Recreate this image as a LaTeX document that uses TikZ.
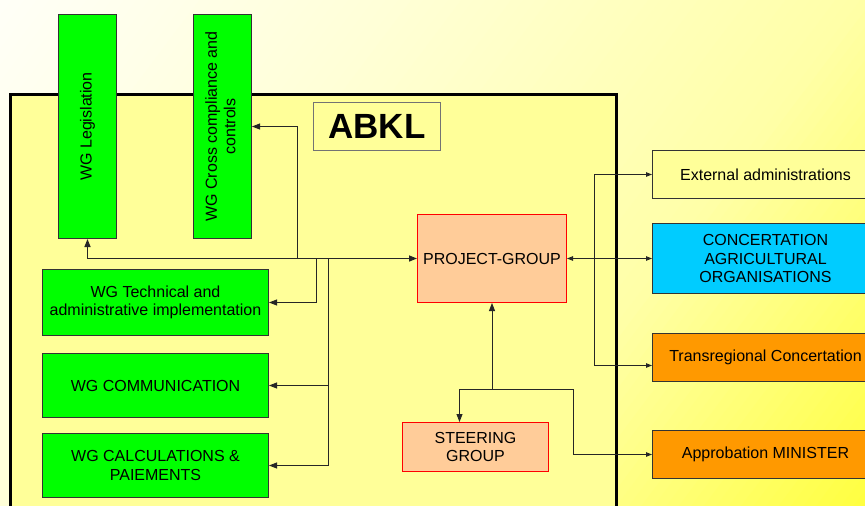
\documentclass[tikz,border=0pt]{standalone}
\usepackage{fontspec}
\setmainfont{Liberation Sans}
\usetikzlibrary{arrows.meta,calc}

\definecolor{paleyellow}{HTML}{FFFF99}
\definecolor{wggreen}{HTML}{00FF00}
\definecolor{pgorange}{HTML}{FFCC99}
\definecolor{concblue}{HTML}{00CCFF}
\definecolor{extorange}{HTML}{FF9900}
\definecolor{edge}{HTML}{333333}

\def\tip{Triangle[length=8pt,width=6pt]}
\def\smalltip{Triangle[length=6pt,width=4.5pt]}

\tikzset{
	box/.style={draw=edge, line width=1pt, inner sep=2pt, align=center, anchor=north west,
		font=\fontsize{16}{18.5}\selectfont},
	wgbox/.style={box, fill=wggreen},
	pgbox/.style={box, fill=pgorange, draw=red},
	outbox/.style={box, fill=#1},
	link/.style={line width=0.9pt, draw=black!85, -{\tip}},
}

\begin{document}
\begin{tikzpicture}[x=1pt, y=-1pt]
			%%%%% START %%%%%
			\useasboundingbox (0,0) rectangle (865,506);
			\clip (0,0) rectangle (865,506);
			
			% background: white to yellow, running down to the right
			\begin{scope}[rotate=-37]
				\foreach \i in {0,...,99} {
					\pgfmathsetmacro\s{(\i+0.5)/100}
					\pgfmathtruncatemacro\bl{\s<0.31 ? 248-103.2*\s : (\s<0.69 ? 216-126.3*(\s-0.31) : 168-335.5*(\s-0.69))}
					\definecolor{bgstrip}{RGB}{255,255,\bl}
					\fill[bgstrip] (\i*9.96,-700) rectangle (\i*9.96+10.6,700);
				}
			\end{scope}
			
			% ABKL frame and its title
			\draw[line width=3pt, fill=paleyellow] (10,94) rectangle (616,540);
			\node[box, draw=black!55, fill=paleyellow, minimum width=127, minimum height=48,
				font=\fontsize{35}{40}\selectfont\bfseries] (abkl) at (313,102) {ABKL};
			
			% working groups
			\node[wgbox, minimum width=58, minimum height=224] (leg) at (58,14) {\rotatebox{90}{WG Legislation}};
			\node[wgbox, minimum width=58, minimum height=224] (cross) at (193,14)
				{\rotatebox{90}{\begin{tabular}{@{}c@{}}WG Cross compliance and\\controls\end{tabular}}};
			\node[wgbox, minimum width=226, minimum height=66] (tech) at (42,269) {WG Technical and\\administrative implementation};
			\node[wgbox, minimum width=226, minimum height=64] (comm) at (42,353) {WG COMMUNICATION};
			\node[wgbox, minimum width=226, minimum height=64] (calc) at (42,433) {WG CALCULATIONS \&\\PAIEMENTS};
			
			% groups
			\node[pgbox, minimum width=149, minimum height=88] (pg) at (417,214) {PROJECT-GROUP};
			\node[pgbox, minimum width=146, minimum height=49] (steer) at (402,422) {STEERING\\GROUP};
			
			% partners outside
			\node[outbox=paleyellow, minimum width=226, minimum height=48] (ext) at (652,150) {External administrations};
			\node[outbox=concblue, minimum width=226, minimum height=70] (conc) at (652,223) {CONCERTATION\\AGRICULTURAL\\ORGANISATIONS};
			\node[outbox=extorange, minimum width=226, minimum height=48] (trans) at (652,333) {Transregional Concertation};
			\node[outbox=extorange, minimum width=226, minimum height=48] (appr) at (652,430) {Approbation MINISTER};
			
			% forks on the connectors
			\coordinate (forkcross) at (297,258);
			\coordinate (forktech) at (316,258);
			\coordinate (forkwg) at (328,258);
			\coordinate (forkout) at (594,258);
			\coordinate (forksteer) at (pg.south |- 0,389);
			
			\draw[link, line width=1.4pt, {\tip}-{\tip}] (leg.south) |- (pg.west);
			\draw[link] (forkcross) |- (cross.east);
			\draw[link] (forktech) |- (tech.east);
			\draw[link] (forkwg) |- (comm.east);
			\draw[link] (forkwg) |- (calc.east);
			
			\draw[link, {\smalltip}-{\smalltip}] (pg.east) -- (conc.west);
			\draw[link, -{\smalltip}] (forkout) |- (ext.west);
			\draw[link, -{\smalltip}] (forkout) |- ([yshift=-8pt]trans.west);
			
			\draw[link] (forksteer) -- (pg.south);
			\draw[link] (forksteer) -| ([xshift=-16pt]steer.north);
			\draw[link, -{\smalltip}] (forksteer) -- ++(81,0) |- (appr.west);
			%%%%% END %%%%%
\end{tikzpicture}
\end{document}
